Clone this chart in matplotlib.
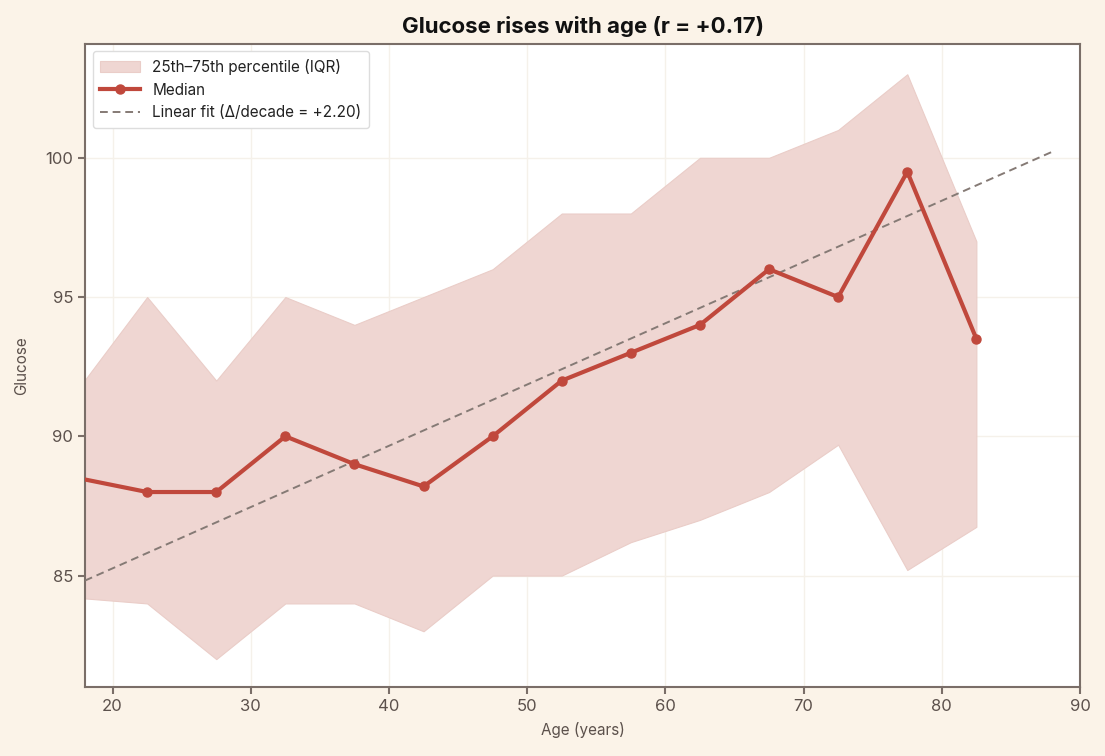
import numpy as np
import matplotlib
matplotlib.use("Agg")
import matplotlib.pyplot as plt

plt.rcParams['font.family'] = ['Inter', 'DejaVu Sans']

age_centers = [17.5, 22.5, 27.5, 32.5, 37.5, 42.5, 47.5, 52.5, 57.5, 62.5, 67.5, 72.5, 77.5, 82.5]
median = [88.5, 88.0, 88.0, 90.0, 89.0, 88.2, 90.0, 92.0, 93.0, 94.0, 96.0, 95.0, 99.5, 93.5]
q25 = [84.2, 84.0, 82.0, 84.0, 84.0, 83.0, 85.0, 85.0, 86.2, 87.0, 88.0, 89.7, 85.2, 86.75]
q75 = [91.7, 95.0, 92.0, 95.0, 94.0, 95.0, 96.0, 98.0, 98.0, 100.0, 100.0, 101.0, 103.0, 97.0]
fit_age_range = [18, 88]
fit_slope_per_decade = 2.20
fit_value_at_18 = 84.82
r_value = 0.17

BG = "#FBF3E8"
RED = "#C0483C"
BAND = "#EFD6D2"
GRAY = "#857A75"
SPINE = "#7A6E68"
TEXT = "#5C514C"

fig = plt.figure(figsize=(11.05, 7.56), dpi=100, facecolor=BG)
ax = fig.add_axes([0.0769, 0.0913, 0.9005, 0.851])
ax.set_facecolor("white")

ax.fill_between(age_centers, q25, q75, facecolor=BAND, linewidth=0.8,
                edgecolor="#EACDC8", label="25th\u201375th percentile (IQR)", zorder=2)
ax.plot(age_centers, median, color=RED, lw=3, marker="o", ms=6.5, label="Median", zorder=4)
fx = np.array(fit_age_range, dtype=float)
fy = fit_value_at_18 + fit_slope_per_decade / 10 * (fx - fit_age_range[0])
ax.plot(fx, fy, color=GRAY, lw=1.4, ls=(0, (4, 2.5)),
        label=f"Linear fit (\u0394/decade = {fit_slope_per_decade:+.2f})", zorder=3)

ax.set_xlim(18, 90)
ax.set_ylim(81, 104.1)
ax.set_xticks([20, 30, 40, 50, 60, 70, 80, 90])
ax.set_yticks([85, 90, 95, 100])
ax.grid(True, color="#F5F1EA", lw=1, zorder=0)
ax.set_axisbelow(True)

for s in ax.spines.values():
    s.set_color(SPINE)
    s.set_linewidth(1.5)
ax.tick_params(colors=SPINE, labelcolor=TEXT, labelsize=12, length=5, width=1.5)

ax.set_xlabel("Age (years)", fontsize=11, color=TEXT, labelpad=6)
ax.set_ylabel("Glucose", fontsize=11, color=TEXT, labelpad=12)
ax.set_title(f"Glucose rises with age (r = {r_value:+.2f})", fontsize=16, fontweight="bold",
             color="#111111", pad=8)

leg = ax.legend(loc="upper left", fontsize=11, frameon=True, framealpha=1,
                edgecolor="#DDDDDD", borderpad=0.5, handlelength=2.6, labelspacing=0.5)
leg.get_frame().set_linewidth(1)
for t in leg.get_texts():
    t.set_color("#222222")

fig.savefig("out.png", dpi=100, facecolor=BG)
